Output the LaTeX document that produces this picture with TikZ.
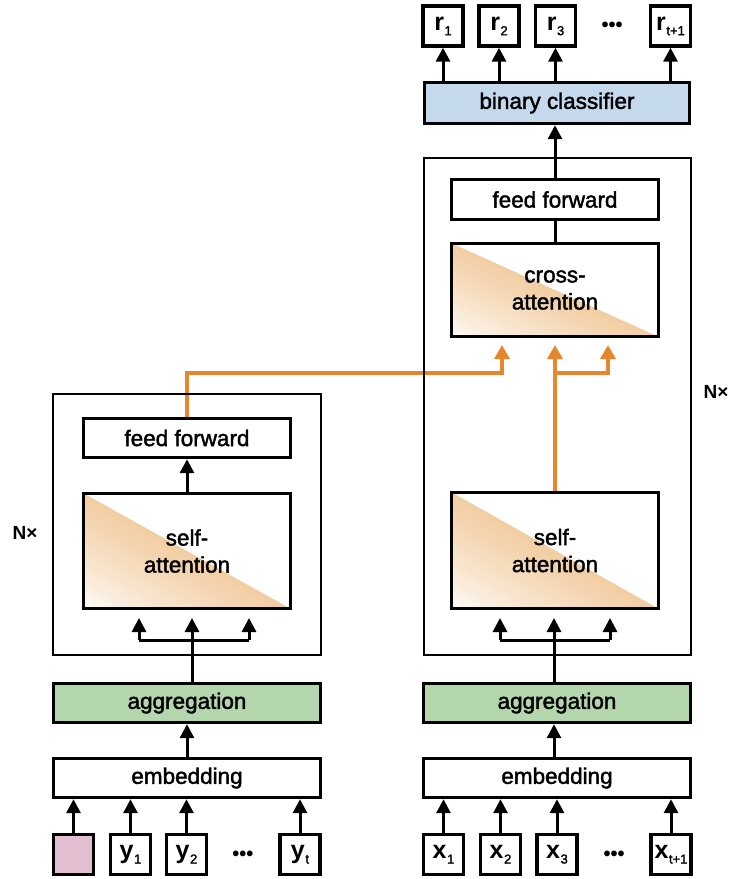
\documentclass[tikz,border=0pt]{standalone}
\usepackage{fontspec}
\setmainfont{Liberation Sans}
\newfontfamily\medfont{Liberation Sans}[FakeBold=1.8]
\newfontfamily\tokfont{Liberation Sans Bold}
\usetikzlibrary{arrows.meta}
\definecolor{aorange}{RGB}{230,135,45}
\definecolor{agreen}{RGB}{179,214,172}
\definecolor{ablue}{RGB}{197,217,236}
\definecolor{apink}{RGB}{226,190,208}
\definecolor{apeach}{RGB}{242,205,162}
\newcommand\sub[1]{\kern0.5pt\raisebox{-5pt}{\medfont\fontsize{13}{13}\selectfont #1}}
% #1,#2 = top-left (x,y), #3,#4 = bottom-right (x,y), y downwards
\newcommand\attnfill[4]{%
  \foreach \k in {60,59,...,1}{%
    \pgfmathsetmacro\s{\k/60}%
    \pgfmathtruncatemacro\c{100*(\s^0.75)}%
    \fill[apeach!\c!white] (#1,#4) -- ({#1+\s*(#3-#1)},#4) -- (#1,{#4+\s*(#2-#4)}) -- cycle;
  }}
\begin{document}
\begin{tikzpicture}[x=1pt,y=-1pt,
  box/.style={draw=black, line width=3.4pt, inner sep=0pt, align=center,
    font=\medfont\fontsize{22.5}{27}\selectfont},
  outer/.style={draw=black, line width=2.6pt, inner sep=0pt},
  arr/.style={line width=3pt, -{Triangle[width=14pt,length=14pt]}},
  ln/.style={line width=3pt},
  oarr/.style={draw=aorange, line width=3.4pt, -{Triangle[width=15pt,length=14pt]}, color=aorange},
  tok/.style={box, minimum width=40pt, minimum height=40pt, font=\tokfont\fontsize{25}{27}\selectfont},
  wide/.style={box, minimum width=267pt, minimum height=39pt},
  inner/.style={box, minimum width=207pt},
  dots/.style={font=\tokfont\fontsize{20}{20}\selectfont},
  nx/.style={font=\tokfont\fontsize{19}{19}\selectfont},
]
\useasboundingbox (0,0) rectangle (736,879);

% attention gradients
\attnfill{83}{493}{291}{609}
\attnfill{451}{492}{659}{609}
\attnfill{451}{243}{659}{337}

% top outputs
\node[tok] (r1) at (443,26) {r\sub{1}};
\node[tok] (r2) at (499,26) {r\sub{2}};
\node[tok] (r3) at (555.5,26) {r\sub{3}};
\node[dots] (rd) at (612,27) {•••};
\node[tok] (rt) at (670.5,26) {r\sub{t+1}};
\node[box, fill=ablue, minimum width=265pt, minimum height=41pt] (cls) at (557,103) {binary classifier};

% right column inner blocks
\node[inner, minimum height=40pt] (ffR) at (555,199.5) {feed forward};
\node[inner, minimum height=93pt] (caR) at (555,290) {cross-\\attention};
\node[inner, minimum height=116pt] (saR) at (555,550.5) {self-\\attention};
\node[wide, fill=agreen] (aggR) at (557,703) {aggregation};
\node[wide] (embR) at (557,778) {embedding};
\node[tok] (x1) at (443.5,854.5) {x\sub{1}};
\node[tok] (x2) at (500.5,854.5) {x\sub{2}};
\node[tok] (x3) at (557,854.5) {x\sub{3}};
\node[dots] (xd) at (614,856) {•••};
\node[tok] (xt) at (671,854.5) {x\sub{t+1}};

% left column inner blocks
\node[inner, minimum height=39pt] (ffL) at (187,438) {feed forward};
\node[inner, minimum height=115pt] (saL) at (187,551) {self-\\attention};
\node[wide, fill=agreen] (aggL) at (187,703) {aggregation};
\node[wide] (embL) at (187,778) {embedding};
\node[tok, fill=apink] (p0) at (73.5,854.5) {};
\node[tok] (y1) at (130.5,854.5) {y\sub{1}};
\node[tok] (y2) at (186.5,854.5) {y\sub{2}};
\node[dots] (yd) at (243,856) {•••};
\node[tok] (yt) at (300,854.5) {y\sub{t}};

% named coordinates
\coordinate (obus) at (0,373);
\coordinate (caInL) at (502,345);
\coordinate (caInM) at (555,345);
\coordinate (caInR) at (608,345);
\coordinate (tipy) at (0,618);
\coordinate (sLl) at (139,640);
\coordinate (sLm) at (192,703);
\coordinate (sLr) at (249,640);
\coordinate (sRl) at (500,640);
\coordinate (sRm) at (554,703);
\coordinate (sRr) at (610,640);

% orange connectors
\draw[oarr] (ffL.north) |- (caInL |- obus) -- (caInL);
\draw[oarr] (saR.north) -- (caInM);
\draw[oarr] (caInM |- obus) -| (caInR);

% outer repeat blocks
\node[outer, minimum width=268pt, minimum height=261pt] (boxL) at (187,524.5) {};
\node[outer, minimum width=267pt, minimum height=497pt] (boxR) at (557.5,406.5) {};
\node[nx] (nL) at (25,533) {N×};
\node[nx] (nR) at (716,392) {N×};

% black connectors, left
\foreach \t in {p0,y1,y2,yt}{\draw[arr] (\t.north) -- (\t.north |- embL.south);}
\draw[arr] (embL.north) -- (aggL.south);
\draw[arr] (aggL.north -| sLm) -- (sLm |- tipy);
\draw[ln] (sLl) -- (sLr);
\draw[arr] (sLl) -- (sLl |- tipy);
\draw[arr] (sLr) -- (sLr |- tipy);
\draw[arr] (saL.north) -- (ffL.south);

% black connectors, right
\foreach \t in {x1,x2,x3,xt}{\draw[arr] (\t.north) -- (\t.north |- embR.south);}
\draw[arr] (embR.north -| sRm) -- (aggR.south -| sRm);
\draw[arr] (aggR.north -| sRm) -- (sRm |- tipy);
\draw[ln] (sRl) -- (sRr);
\draw[arr] (sRl) -- (sRl |- tipy);
\draw[arr] (sRr) -- (sRr |- tipy);
\draw[ln] (caR.north) -- (ffR.south);
\draw[arr] (ffR.north) -- (cls.south -| ffR.north);
\foreach \t in {r1,r2,r3,rt}{\draw[arr] (cls.north -| \t.south) -- (\t.south);}
\end{tikzpicture}
\end{document}
